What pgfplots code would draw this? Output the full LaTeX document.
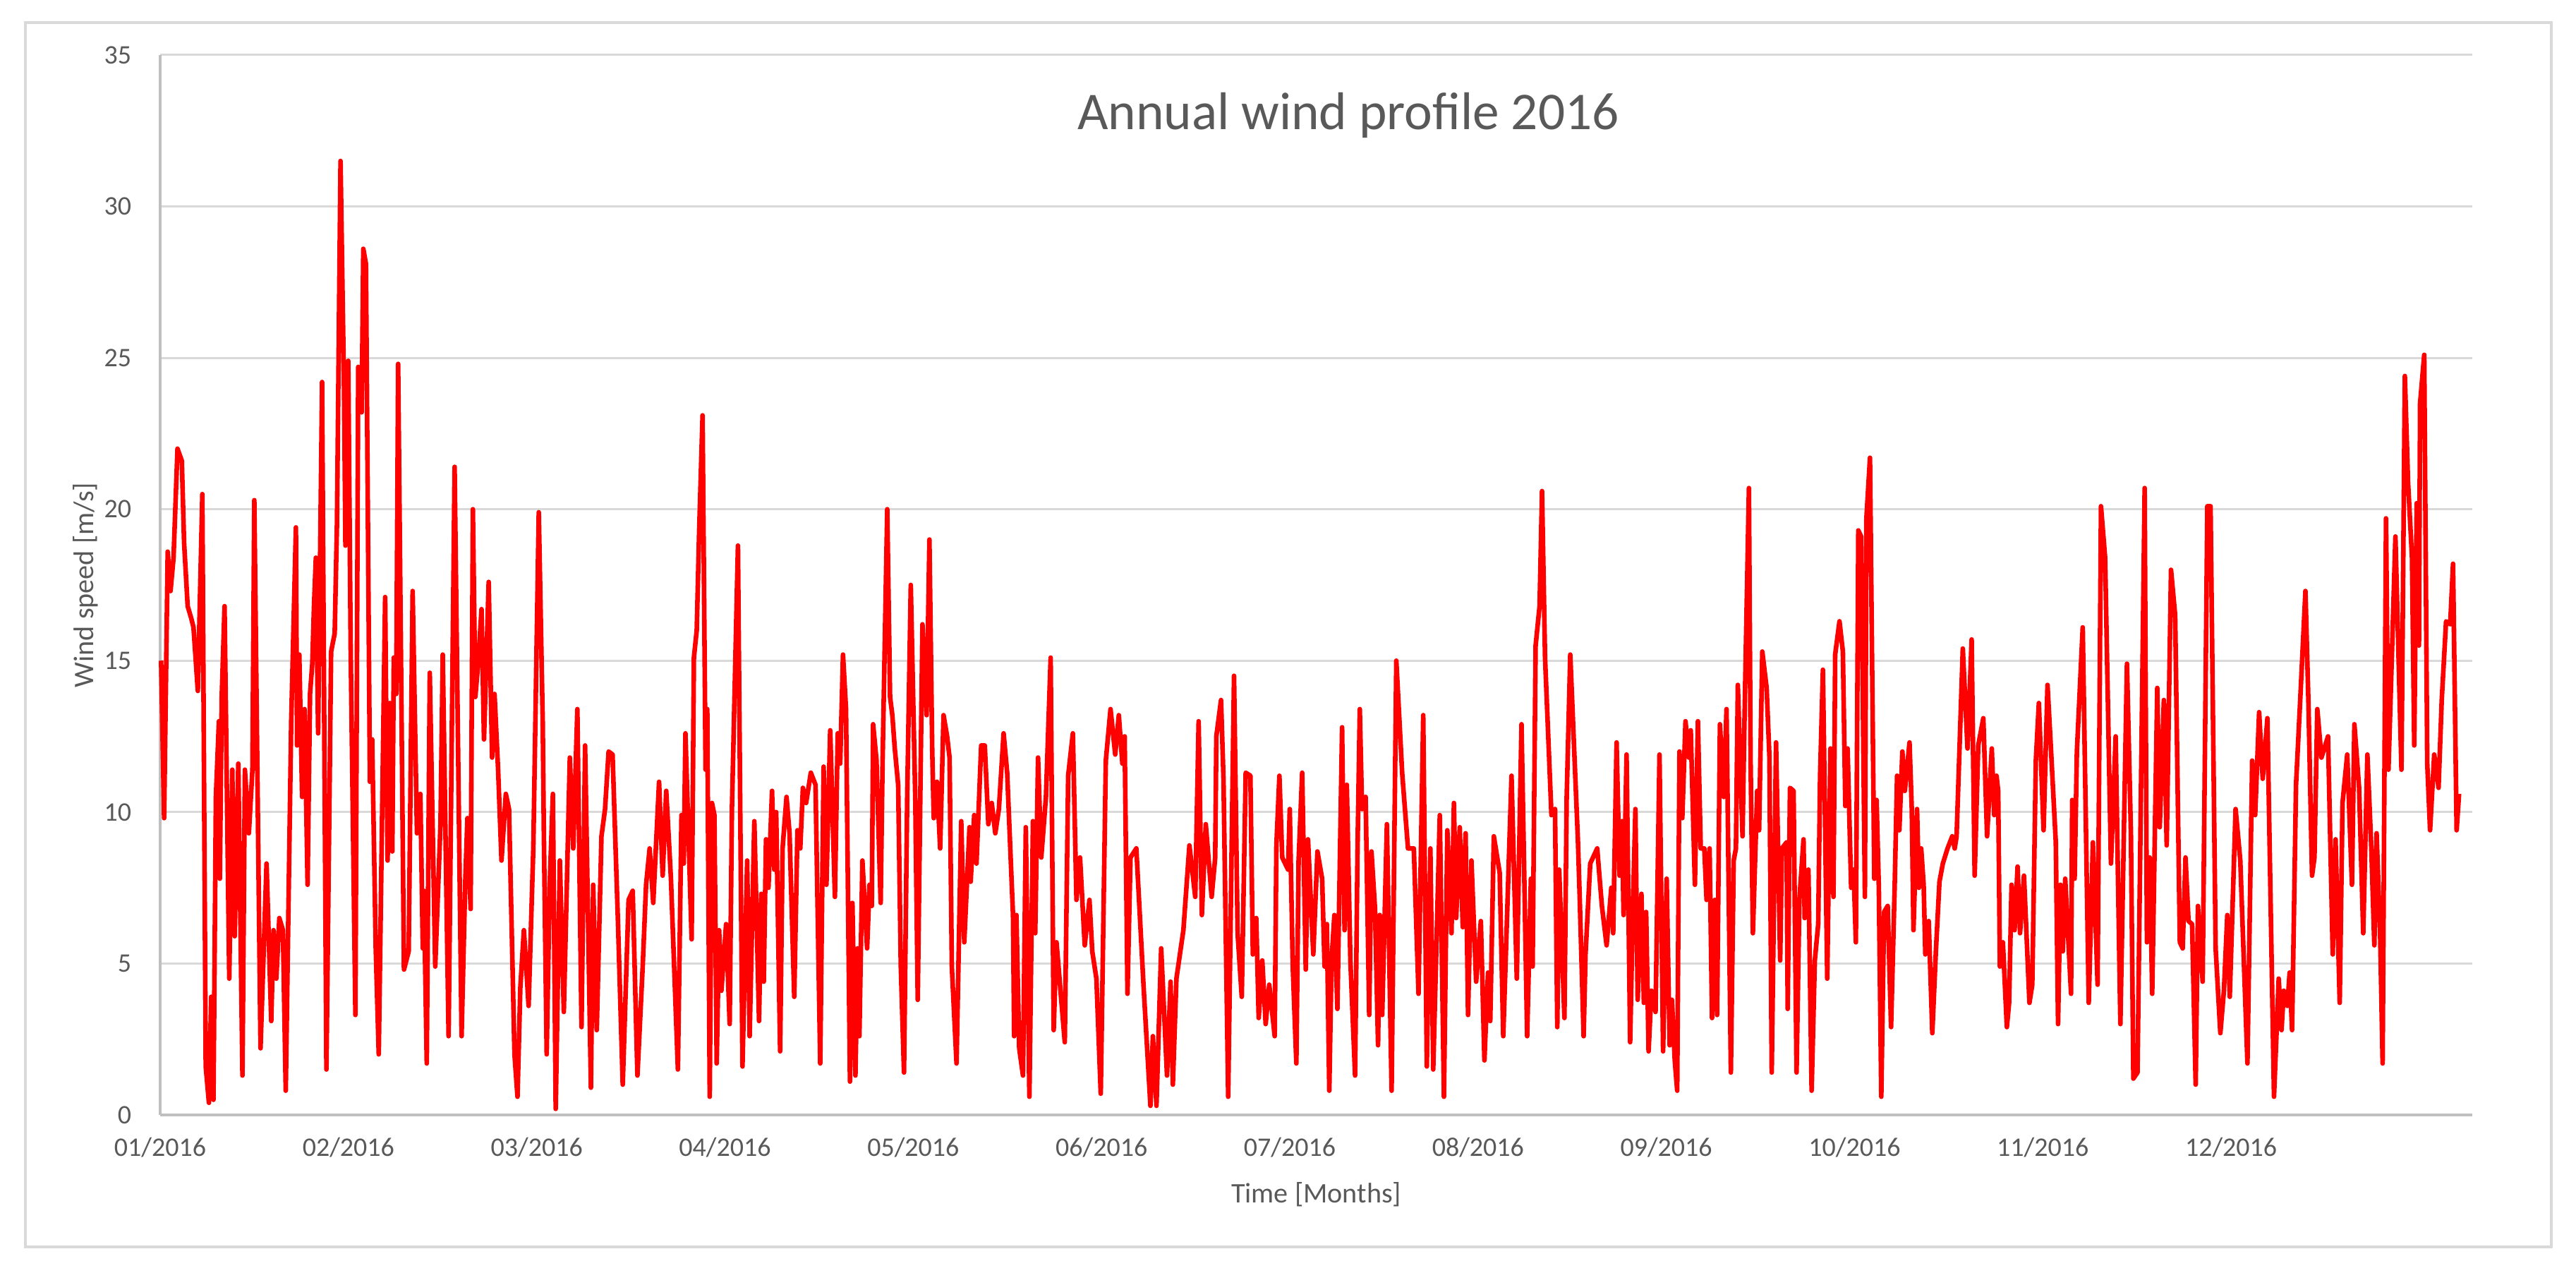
\documentclass[border=0pt]{standalone}
\usepackage{fontspec}
\setmainfont{Carlito}
\usepackage{pgfplots}
\pgfplotsset{compat=1.18}
\definecolor{txt}{HTML}{595959}
\definecolor{gridc}{HTML}{D9D9D9}
\definecolor{axl}{HTML}{BFBFBF}
\definecolor{framec}{HTML}{D9D9D9}
\begin{document}
\begin{tikzpicture}[x=1pt,y=1pt]
\path (0,0) rectangle (500,247.05);
\draw[framec, line width=0.5pt] (4.93,5.07) rectangle (495.2,242.7);
\begin{axis}[
 at={(31.09pt,30.68pt)}, anchor=south west,
 scale only axis, width=448.8pt, height=205.7pt,
 xmin=0, xmax=12.282, ymin=0, ymax=35,
 axis x line=bottom, axis y line=left,
 axis line style={axl, line width=0.5pt, -},
 xtick={0,1,2,3,4,5,6,7,8,9,10,11},
 xticklabels={01/2016,02/2016,03/2016,04/2016,05/2016,06/2016,07/2016,08/2016,09/2016,10/2016,11/2016,12/2016},
 ytick={0,5,10,15,20,25,30,35},
 ymajorgrids, grid style={gridc, line width=0.4pt},
 major tick length=0pt,
 tick label style={font=\fontsize{5.2}{6}\selectfont, text=txt},
 /pgf/number format/assume math mode=true,
 xticklabel style={anchor=base, yshift=-8pt, inner sep=0pt},
 yticklabel style={anchor=east, xshift=-5.4pt, inner sep=0pt},
 xlabel={Time [Months]}, ylabel={Wind speed [m/s]},
 label style={font=\fontsize{5.5}{6.5}\selectfont, text=txt},
 xlabel style={at={(axis description cs:0.5,-0.0753)}, anchor=center},
 ylabel style={at={(axis description cs:-0.0323,0.5)}, anchor=center, rotate=0},
 clip=false,
]
\addplot[color=red, line width=0.9pt, line join=round] coordinates {
(0.005,15.0) (0.021,9.8) (0.040,18.6) (0.055,17.3) (0.071,18.4) (0.092,22.0) (0.115,21.6) (0.127,18.9) (0.146,16.8) (0.165,16.4) (0.177,16.1) (0.200,14.0) (0.224,20.5) (0.242,1.6) (0.259,0.4) (0.271,3.9) (0.283,0.5) (0.296,10.5) (0.312,13.0) (0.317,7.8) (0.327,13.8) (0.342,16.8) (0.367,4.5) (0.383,11.4) (0.396,5.9) (0.415,11.6) (0.437,1.3) (0.450,11.4) (0.471,9.3) (0.490,11.4) (0.500,20.3) (0.533,2.2) (0.565,8.3) (0.590,3.1) (0.602,6.1) (0.617,4.5) (0.633,6.5) (0.652,6.1) (0.667,0.8) (0.696,13.0) (0.721,19.4) (0.727,12.2) (0.739,15.2) (0.754,10.5) (0.767,13.4) (0.783,7.6) (0.796,13.9) (0.808,14.9) (0.817,16.8) (0.827,18.4) (0.839,12.6) (0.860,24.2) (0.883,1.5) (0.908,15.3) (0.927,15.9) (0.939,19.5) (0.958,31.5) (0.977,23.8) (0.984,18.8) (0.999,24.9) (1.012,15.3) (1.037,3.3) (1.052,24.7) (1.070,23.2) (1.079,28.6) (1.093,28.1) (1.114,11.0) (1.126,12.4) (1.145,5.5) (1.161,2.0) (1.195,17.1) (1.208,8.4) (1.220,13.6) (1.233,8.7) (1.241,15.1) (1.254,13.9) (1.264,24.8) (1.283,12.6) (1.295,4.8) (1.320,5.4) (1.341,17.3) (1.364,9.3) (1.382,10.6) (1.395,5.5) (1.401,7.4) (1.416,1.7) (1.432,14.6) (1.461,4.9) (1.489,9.6) (1.501,15.2) (1.532,2.6)
(1.564,21.4) (1.601,2.6) (1.620,7.6) (1.632,9.8) (1.649,6.8) (1.661,20.0) (1.674,13.8) (1.689,14.9) (1.707,16.7) (1.720,12.4) (1.745,17.6) (1.763,11.8) (1.776,13.9) (1.795,11.4) (1.813,8.4) (1.836,10.6) (1.853,10.1) (1.882,2.0) (1.898,0.6) (1.913,4.2) (1.932,6.1) (1.957,3.6) (1.982,8.8) (2.011,19.9) (2.032,13.0) (2.038,9.3) (2.053,2.0) (2.069,7.6) (2.086,10.6) (2.101,0.2) (2.123,8.4) (2.144,3.4) (2.157,6.8) (2.176,11.8) (2.194,8.8) (2.216,13.4) (2.238,2.9) (2.257,12.2) (2.288,0.9) (2.300,7.6) (2.319,2.8) (2.344,9.2) (2.363,10.1) (2.382,12.0) (2.403,11.9) (2.432,6.3) (2.457,1.0) (2.488,7.1) (2.510,7.4) (2.535,1.3) (2.563,4.9) (2.581,7.6) (2.600,8.8) (2.619,7.0) (2.650,11.0) (2.669,7.9) (2.688,10.7) (2.713,7.8) (2.750,1.5) (2.769,9.9) (2.781,8.3) (2.790,12.6) (2.823,5.8) (2.835,15.1) (2.850,16.0) (2.863,19.3) (2.881,23.1) (2.897,11.4) (2.906,13.4) (2.919,0.6) (2.931,10.3) (2.944,9.9) (2.956,1.7) (2.969,6.1) (2.981,4.1) (3.006,6.3) (3.025,3.0) (3.037,10.1) (3.069,18.8)
(3.093,1.6) (3.118,8.4) (3.131,2.6) (3.156,9.7) (3.181,3.1) (3.193,7.3) (3.206,4.4) (3.218,9.1) (3.231,7.5) (3.250,10.7) (3.262,8.1) (3.272,10.0) (3.293,2.1) (3.306,8.8) (3.327,10.5) (3.343,9.3) (3.368,3.9) (3.385,9.4) (3.400,8.8) (3.414,10.8) (3.431,10.3) (3.456,11.3) (3.481,10.9) (3.506,1.7) (3.524,11.5) (3.539,7.6) (3.559,12.7) (3.584,7.2) (3.599,12.6) (3.612,11.6) (3.627,15.2) (3.643,13.4) (3.664,1.1) (3.677,7.0) (3.693,1.3) (3.705,5.5) (3.714,2.6) (3.730,8.4) (3.755,5.5) (3.768,7.6) (3.780,6.9) (3.787,12.9) (3.805,11.7) (3.827,7.0) (3.837,11.6) (3.862,20.0) (3.877,13.8) (3.889,13.2) (3.902,12.1) (3.920,10.9) (3.934,4.9) (3.951,1.4) (3.968,10.5) (3.987,17.5) (4.011,10.4) (4.024,3.8) (4.049,16.2) (4.071,13.2) (4.086,19.0) (4.101,12.0) (4.109,9.8) (4.126,11.0) (4.143,8.8) (4.161,13.2) (4.180,12.5) (4.193,11.8) (4.205,4.9) (4.230,1.7) (4.255,9.7) (4.271,5.7) (4.299,9.5) (4.305,7.7) (4.324,9.9) (4.336,8.3) (4.361,12.2) (4.380,12.2) (4.399,9.6) (4.417,10.3) (4.436,9.3) (4.455,10.1) (4.480,12.6) (4.499,11.3) (4.530,6.6) (4.536,2.6) (4.548,6.6) (4.563,2.2) (4.583,1.3) (4.598,9.5) (4.617,0.6)
(4.636,9.7) (4.648,6.0) (4.663,11.8) (4.680,8.5) (4.705,10.5) (4.730,15.1) (4.746,2.8) (4.761,5.7) (4.805,2.4) (4.823,11.2) (4.848,12.6) (4.867,7.1) (4.886,8.5) (4.911,5.6) (4.936,7.1) (4.951,5.4) (4.973,4.5) (4.996,0.7) (5.023,11.7) (5.048,13.4) (5.073,11.9) (5.092,13.2) (5.111,11.6) (5.123,12.5) (5.138,4.0) (5.154,8.5) (5.185,8.8) (5.223,4.3) (5.235,3.0) (5.260,0.3) (5.273,2.6) (5.292,0.3) (5.317,5.5) (5.348,1.3) (5.367,4.4) (5.379,1.0) (5.398,4.5) (5.435,6.1) (5.467,8.9) (5.498,7.2) (5.516,13.0) (5.533,6.6) (5.554,9.6) (5.585,7.2) (5.604,8.5) (5.610,12.5) (5.635,13.7) (5.648,11.1) (5.673,0.6) (5.704,14.5) (5.723,6.0) (5.745,3.9) (5.766,11.3) (5.791,11.2) (5.804,5.3) (5.822,6.5) (5.835,3.2) (5.854,5.1) (5.872,3.0) (5.891,4.3) (5.920,2.6) (5.929,8.9) (5.945,11.2) (5.960,8.5) (5.991,8.1) (6.000,10.1) (6.016,4.9) (6.035,1.7) (6.047,8.4) (6.066,11.3) (6.085,4.8) (6.097,9.1) (6.125,5.3)
(6.147,8.7) (6.172,7.8) (6.185,4.9) (6.197,6.3) (6.210,0.8) (6.222,5.1) (6.237,6.6) (6.253,3.5) (6.278,12.8) (6.291,6.1) (6.303,10.9) (6.322,5.1) (6.347,1.3) (6.360,8.8) (6.372,13.4) (6.384,10.1) (6.403,10.5) (6.422,3.3) (6.434,8.7) (6.453,6.8) (6.469,2.3) (6.478,6.6) (6.491,3.3) (6.516,9.6) (6.541,0.8) (6.566,15.0) (6.597,11.3) (6.628,8.8) (6.659,8.8) (6.684,4.0) (6.709,13.2) (6.728,1.6) (6.747,8.8) (6.762,1.5) (6.797,9.9) (6.819,0.6) (6.837,9.4) (6.859,6.0) (6.872,10.3) (6.884,6.5) (6.903,9.5) (6.919,6.2) (6.934,9.3) (6.947,3.3) (6.965,8.4) (6.990,4.4) (7.015,6.4) (7.034,1.8) (7.053,4.7) (7.065,3.1) (7.084,9.2) (7.115,8.0) (7.134,2.6) (7.178,11.2) (7.206,4.5) (7.231,12.9) (7.261,2.6) (7.281,7.8) (7.290,4.9) (7.306,15.5) (7.327,16.8) (7.340,20.6) (7.356,15.1) (7.390,9.9) (7.409,10.1) (7.421,2.9) (7.431,8.1) (7.459,3.2) (7.471,10.5) (7.490,15.2) (7.531,9.0) (7.540,7.2) (7.561,2.6) (7.571,5.3) (7.596,8.3) (7.633,8.8) (7.658,6.9) (7.683,5.6)
(7.708,7.5) (7.718,6.0) (7.736,12.3) (7.752,7.9) (7.765,9.7) (7.773,6.6) (7.789,11.9) (7.808,2.4) (7.821,6.4) (7.836,10.1) (7.848,3.8) (7.868,7.3) (7.881,3.7) (7.893,6.7) (7.906,2.1) (7.921,4.1) (7.943,3.4) (7.964,11.9) (7.983,2.1) (8.002,7.8) (8.018,2.3) (8.030,3.8) (8.045,1.8) (8.058,0.8) (8.070,12.0) (8.085,9.8) (8.102,13.0) (8.120,11.8) (8.130,12.7) (8.152,7.6) (8.168,13.0) (8.183,8.8) (8.202,8.8) (8.214,7.1) (8.230,8.8) (8.243,3.2) (8.258,7.1) (8.270,3.3) (8.285,12.9) (8.305,10.5) (8.320,13.4) (8.343,1.4) (8.358,8.4) (8.370,8.8) (8.380,14.2) (8.405,9.2) (8.414,12.6) (8.439,20.7) (8.448,11.6) (8.460,6.0) (8.483,10.7) (8.493,9.4) (8.510,15.3) (8.533,14.1) (8.548,11.8) (8.560,1.4) (8.583,12.3) (8.605,5.1) (8.614,8.8) (8.639,9.0) (8.645,3.5) (8.657,10.8) (8.676,10.7) (8.692,1.4) (8.707,7.1) (8.729,9.1) (8.735,6.5) (8.755,8.1) (8.772,0.8) (8.789,5.1) (8.807,6.3) (8.817,11.2) (8.832,14.7) (8.855,4.5) (8.872,12.1) (8.888,7.2) (8.897,15.2) (8.920,16.3) (8.938,15.3) (8.951,10.2) (8.963,12.1) (8.982,7.5) (8.995,8.1) (9.007,5.7) (9.020,19.3) (9.035,19.1) (9.055,7.2) (9.063,19.7) (9.082,21.7) (9.105,7.8) (9.117,10.4) (9.129,7.5) (9.142,0.6) (9.157,6.7) (9.176,6.9) (9.194,2.9) (9.213,7.5)
(9.226,11.2) (9.238,9.4) (9.254,12.0) (9.267,10.7) (9.292,12.3) (9.304,10.1) (9.313,6.1) (9.332,10.1) (9.342,7.5) (9.354,8.8) (9.367,7.6) (9.376,5.3) (9.394,6.4) (9.413,2.7) (9.432,5.4) (9.451,7.7) (9.469,8.3) (9.494,8.8) (9.519,9.2) (9.532,8.8) (9.542,9.2) (9.557,12.0) (9.575,15.4) (9.600,12.1) (9.622,15.7) (9.638,7.9) (9.657,12.2) (9.684,13.1) (9.704,9.2) (9.729,12.1) (9.742,9.9) (9.754,11.2) (9.763,10.7) (9.772,4.9) (9.788,5.7) (9.809,2.9) (9.821,3.7) (9.834,7.6) (9.850,6.1) (9.866,8.2) (9.879,6.0) (9.900,7.9) (9.929,3.7) (9.944,4.3) (9.963,11.7) (9.979,13.6) (10.004,9.4) (10.025,14.2) (10.044,12.0) (10.069,9.0) (10.081,3.0) (10.094,7.6) (10.106,5.4) (10.119,7.8) (10.150,4.0) (10.156,10.4) (10.169,7.8) (10.181,12.0) (10.212,16.1) (10.244,3.7) (10.266,9.0) (10.291,4.3) (10.309,20.1) (10.331,18.4) (10.362,8.3) (10.387,12.5) (10.412,3.0) (10.447,14.9) (10.468,9.3) (10.481,1.2) (10.503,1.4) (10.541,20.7) (10.553,5.7) (10.568,8.5) (10.581,4.0) (10.608,14.1) (10.621,9.5) (10.643,13.7) (10.658,8.9) (10.681,18.0) (10.703,16.5) (10.728,5.7) (10.743,5.5) (10.758,8.5)
(10.774,6.4) (10.793,6.3) (10.812,1.0) (10.824,6.9) (10.849,4.4) (10.874,20.1) (10.891,20.1) (10.918,5.5) (10.943,2.7) (10.962,4.1) (10.980,6.6) (10.993,3.9) (11.024,10.1) (11.049,8.4) (11.087,1.7) (11.112,11.7) (11.128,9.9) (11.149,13.3) (11.168,11.1) (11.193,13.1) (11.228,0.6) (11.253,4.5) (11.268,2.8) (11.280,4.1) (11.299,3.6) (11.311,4.7) (11.324,2.8) (11.345,10.9) (11.368,13.8) (11.395,17.3) (11.411,13.6) (11.430,7.9) (11.443,8.5) (11.458,13.4) (11.480,11.8) (11.515,12.5) (11.540,5.3) (11.555,9.1) (11.577,3.7) (11.592,10.3) (11.617,11.9) (11.642,7.6) (11.655,12.9) (11.680,10.8) (11.702,6.0) (11.724,11.9) (11.745,8.8) (11.761,5.6) (11.773,9.3) (11.792,5.9) (11.805,1.7) (11.823,19.7) (11.836,11.4) (11.873,19.1) (11.905,11.4) (11.923,24.4) (11.940,20.9) (11.961,18.4) (11.973,12.2) (11.986,20.2) (11.998,15.5) (12.004,23.5) (12.026,25.1) (12.042,11.6) (12.057,9.4) (12.079,11.9) (12.102,10.8) (12.119,13.7) (12.142,16.3) (12.164,16.2) (12.179,18.2) (12.198,9.4) (12.211,10.6)
};
\node[font=\fontsize{10.3}{12}\selectfont, text=txt, anchor=center] at (axis description cs:0.5138,0.943) {Annual wind profile 2016};
\end{axis}
\end{tikzpicture}
\end{document}
